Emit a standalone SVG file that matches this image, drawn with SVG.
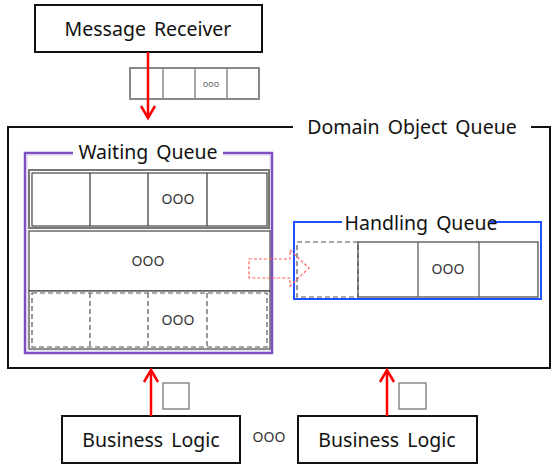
<svg xmlns="http://www.w3.org/2000/svg" width="551" height="465" viewBox="0 0 551 465">
  <style>
    .label { font-family: "Noto Sans", "Liberation Sans", sans-serif; font-size: 19.5px; word-spacing: 3px; fill: #111; text-anchor: middle; }
    .dots { font-family: "Noto Sans", "Liberation Sans", sans-serif; font-size: 14px; fill: #333; text-anchor: middle; }
    .box { fill: #fff; stroke: #111; stroke-width: 2; }
    .cell { fill: #fff; stroke: #444; stroke-width: 1.2; }
    .dash { fill: none; stroke: #555; stroke-width: 1.2; stroke-dasharray: 5 3; }
    .flow { stroke: #ff0000; stroke-width: 2.5; fill: none; }
  </style>
  <rect width="551" height="465" fill="#fff"/>

  <!-- outer container -->
  <g id="domain-object-queue">
    <path d="M293,127 L8,127 L8,368 L550,368 L550,127 L531,127" fill="none" stroke="#111" stroke-width="2"/>
    <text class="label" x="412" y="134">Domain Object Queue</text>
  </g>

  <g id="message-receiver">
    <rect class="box" x="35" y="5" width="227" height="47"/>
    <text class="label" x="148" y="36">Message Receiver</text>
  </g>

  <g id="incoming-queue">
    <rect x="130" y="68" width="129" height="31" fill="#fff" stroke="#888" stroke-width="2"/>
    <path d="M163,68 V99 M195,68 V99 M227,68 V99" stroke="#888" stroke-width="1.5"/>
    <text x="211" y="87" font-family="Noto Sans, sans-serif" font-size="9" fill="#666" text-anchor="middle">ooo</text>
  </g>

  <g id="waiting-queue">
    <path d="M73,153 L25,153 L25,353 L272,353 L272,153 L223,153" fill="none" stroke="#7f4fbf" stroke-width="2.5"/>
    <path d="M73,155 L27,155 L27,351 L270,351 L270,155 L223,155" fill="none" stroke="#d9c8ee" stroke-width="1"/>
    <text class="label" x="148" y="159">Waiting Queue</text>
    <!-- row 1 -->
    <rect x="29" y="170" width="240" height="58" fill="#fff" stroke="#777" stroke-width="2"/>
    <rect class="cell" x="32" y="173" width="235" height="53" stroke="#222"/>
    <path d="M90,173 V226 M148,173 V226 M207,173 V226" stroke="#333" stroke-width="1.2"/>
    <text class="dots" x="178" y="204">OOO</text>
    <!-- row 2 -->
    <rect class="cell" x="29" y="231" width="241" height="60" stroke="#222"/>
    <text class="dots" x="148" y="266">OOO</text>
    <!-- row 3 -->
    <rect class="cell" x="29" y="291" width="241" height="58" stroke="#222"/>
    <rect class="dash" x="32" y="293" width="235" height="54"/>
    <path class="dash" d="M90,293 V347 M148,293 V347 M207,293 V347"/>
    <text class="dots" x="178" y="325">OOO</text>
  </g>

  <g id="handling-queue">
    <path d="M342,222 L294,222 L294,299 L541,299 L541,222 L490,222" fill="none" stroke="#2050ff" stroke-width="2"/>
    <text class="label" x="421" y="230">Handling Queue</text>
    <rect class="cell" x="358" y="242" width="180" height="55" stroke="#555"/>
    <path d="M418,242 V297 M479,242 V297" stroke="#555" stroke-width="1.2"/>
    <rect class="dash" x="297" y="242" width="61" height="55" stroke="#777"/>
    <text class="dots" x="448" y="274">OOO</text>
  </g>

  <g id="business-logic-1">
    <rect class="box" x="62" y="416" width="178" height="47"/>
    <text class="label" x="151" y="447">Business Logic</text>
    <rect x="163" y="383" width="26" height="26" fill="#fff" stroke="#888" stroke-width="1.5"/>
  </g>

  <g id="business-logic-2">
    <rect class="box" x="298" y="416" width="179" height="47"/>
    <text class="label" x="387" y="447">Business Logic</text>
    <rect x="399" y="383" width="27" height="26" fill="#fff" stroke="#888" stroke-width="1.5"/>
  </g>

  <text class="dots" x="269" y="442" font-size="12">OOO</text>

  <g id="connectors">
    <path class="flow" d="M148,52 V118"/>
    <path class="flow" d="M141,106 L148,118 L155,106"/>
    <path class="flow" d="M151,416 V370"/>
    <path class="flow" d="M144,382 L151,370 L158,382"/>
    <path class="flow" d="M387,416 V370"/>
    <path class="flow" d="M380,382 L387,370 L394,382"/>
    <!-- transfer arrow from waiting to handling -->
    <path d="M249,259 L290,259 L290,250 L309,268 L290,286 L290,278 L249,278 Z" fill="none" stroke="#ff6060" stroke-width="1.2" stroke-dasharray="3 2"/>
  </g>
</svg>
